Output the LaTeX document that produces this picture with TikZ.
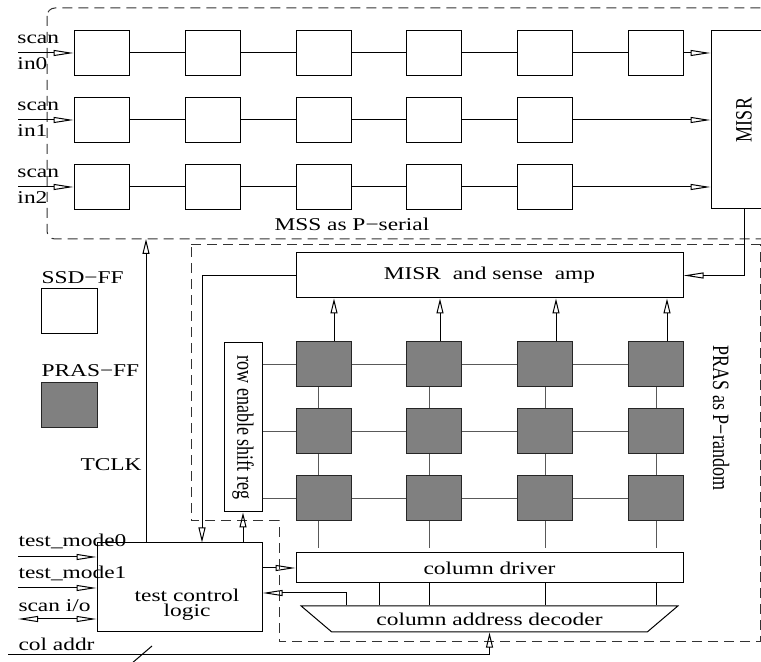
\documentclass[tikz,border=0pt]{standalone}
\usepackage{graphicx}
\usepackage{fontspec}
\setmainfont[FakeStretch=1.3]{Liberation Serif}
\newfontfamily\rotfont[FakeStretch=0.77]{Liberation Serif}
\usetikzlibrary{arrows.meta, positioning, calc, shapes.geometric}

\begin{document}
\begin{tikzpicture}[
    x=0.5pt, y=-0.5pt,
    line width=0.5pt,
    font=\fontsize{9}{10}\selectfont,
    ssd/.style={draw, rectangle, inner sep=0pt, minimum width=27.5pt, minimum height=22.5pt},
    pras/.style={ssd, fill=black!50, draw=black!85},
    block/.style={draw, rectangle, inner sep=0pt, align=center},
    rot/.style={font=\rotfont\fontsize{11.7}{13}\selectfont},
    lbl/.style={inner sep=0pt, anchor=base west},
    region/.style={dashed, dash pattern=on 5pt off 3pt, black!80},
    wire/.style={draw=black!65},
    arrow/.style={-{Triangle[open, length=10pt, width=3pt]}},
    uparrow/.style={-{Triangle[open, length=7.5pt, width=3.5pt]}},
    both/.style={{Triangle[open, length=10pt, width=3pt]}-{Triangle[open, length=10pt, width=3pt]}}
]
    \useasboundingbox (0,0) rectangle (761,662);
    \clip (0,0) rectangle (761,662);

    % Regions
    \draw[region, rounded corners=4pt] (47,8) rectangle (790,239);
    \draw[region] (191,245) -- (760,245) -- (760,642) -- (279,642) -- (279,521) -- (191,521) -- cycle;
    \node[lbl] (msslbl) at (274,231) {MSS as P−serial};
    \node[rot, rotate=-90] (praslbl) at (721,418) {PRAS as P−random};

    % Scan chains
    \foreach \r/\y in {0/53, 1/120, 2/187} {
        \node[lbl] (scan\r) at (17,\y-9) {scan};
        \node[lbl] (scanin\r) at (17,\y+17) {in\r};
        \coordinate (si\r) at (18,\y);
    }
    \foreach \c/\x in {1/101.5, 2/212.5, 3/323.5, 4/434, 5/545, 6/655.5}
        \node[ssd] (ff0-\c) at (\x,53) {};
    \foreach \c/\x in {1/101.5, 2/212.5, 3/323.5, 4/434, 5/545} {
        \node[ssd] (ff1-\c) at (\x,120) {};
        \node[ssd] (ff2-\c) at (\x,187) {};
    }
    \node[block, rot, minimum width=33pt, minimum height=89pt] (misr) at (744,120) {\rotatebox{90}{MISR}};

    \foreach \r in {0,1,2}
        \draw[arrow] (si\r) -- (ff\r-1);
    \foreach \c [count=\n from 2] in {1,...,5}
        \draw (ff0-\c) -- (ff0-\n);
    \foreach \c [count=\n from 2] in {1,...,4} {
        \draw (ff1-\c) -- (ff1-\n);
        \draw (ff2-\c) -- (ff2-\n);
    }
    \draw[arrow] (ff0-6) -- (ff0-6 -| misr.west);
    \draw[arrow] (ff1-5) -- (ff1-5 -| misr.west);
    \draw[arrow] (ff2-5) -- (ff2-5 -| misr.west);

    % Legend
    \node[lbl] (ssdlbl) at (41,284) {SSD−FF};
    \node[ssd, minimum width=28pt] (ssdkey) at (69,311.5) {};
    \node[lbl] (praskeylbl) at (41,377) {PRAS−FF};
    \node[pras, minimum width=28pt] (praskey) at (69,405) {};
    \node[lbl] (tclklbl) at (80,471) {TCLK};

    % PRAS array
    \node[block, minimum width=193.5pt, minimum height=22.5pt] (amp) at (489.5,275.5) {MISR\ \ and sense\ \ amp};
    \node[block, rot, minimum width=19pt, minimum height=84.5pt] (sr) at (243,427.5) {\rotatebox{-90}{row enable shift reg}};
    \foreach \r/\y in {1/364.5, 2/431.5, 3/498.5}
        \foreach \c/\x in {1/323.5, 2/434, 3/545, 4/655.5}
            \node[pras] (pr\r-\c) at (\x,\y) {};
    \node[block, minimum width=193.5pt, minimum height=15pt] (cd) at (489.5,568) {column driver};
    \node[trapezium, draw, trapezium angle=30, shape border rotate=180, trapezium stretches=true,
          minimum width=188.5pt, minimum height=13pt, inner sep=0pt] (dec) at (489.5,619) {column address decoder};

    \foreach \r in {1,2,3} {
        \draw[wire] (sr.east |- pr\r-1) -- (pr\r-1);
        \foreach \c [count=\n from 2] in {1,2,3}
            \draw[wire] (pr\r-\c) -- (pr\r-\n);
    }
    \foreach \c/\v/\a in {1/318/334, 2/429/440, 3/545/556, 4/656/667} {
        \draw[wire] (\v,0 |- pr1-\c.south) -- (\v,0 |- pr2-\c.north);
        \draw[wire] (\v,0 |- pr2-\c.south) -- (\v,0 |- pr3-\c.north);
        \draw[wire, shorten >=2pt] (\v,0 |- pr3-\c.south) -- (\v,0 |- cd.north);
        \draw[uparrow] (\a,0 |- pr1-\c.north) -- (\a,0 |- amp.south);
    }
    \foreach \x in {379,429,545,656}
        \draw (\x,0 |- cd.south) -- (\x,0 |- dec.north);

    % Test control
    \node[block, minimum width=82.5pt, minimum height=44.5pt] (tcl) at (179.5,587.5) {};
    \node[align=center, inner sep=0pt, font=\fontsize{9}{7.5}\selectfont] (tcltext) at (187,605) {test control\\logic};
    \node[lbl] (tm0lbl) at (18,547) {test\_mode0};
    \node[lbl] (tm1lbl) at (18,579) {test\_mode1};
    \node[lbl] (siolbl) at (18,611) {scan i/o};
    \node[lbl] (calbl) at (18,651) {col addr};
    \coordinate (tm0) at (18,557);
    \coordinate (tm1) at (18,588);
    \coordinate (sio) at (18,619);
    \coordinate (ca) at (8,655);
    \coordinate (clkend) at (146,239);

    % Arrows
    \draw[arrow] (tm0) -- (tm0 -| tcl.west);
    \draw[arrow] (tm1) -- (tm1 -| tcl.west);
    \draw[both] (sio) -- (sio -| tcl.west);
    \draw[uparrow] (ca) -| (dec.south);
    \draw (131,664) -- (152,646);
    \draw[uparrow] (tcl.north -| clkend) -- (clkend);
    \draw[arrow] (misr.south) |- (amp.east);
    \draw[uparrow] (amp.west) -| (202,0 |- tcl.north);
    \draw[uparrow] (tcl.north -| sr.south) -- (sr.south);
    \draw[arrow] (tcl.east |- cd.west) -- (cd.west);
    \draw[arrow] (346,0 |- dec.north) |- ($(tcl.east)+(0,5.5)$);
\end{tikzpicture}
\end{document}
